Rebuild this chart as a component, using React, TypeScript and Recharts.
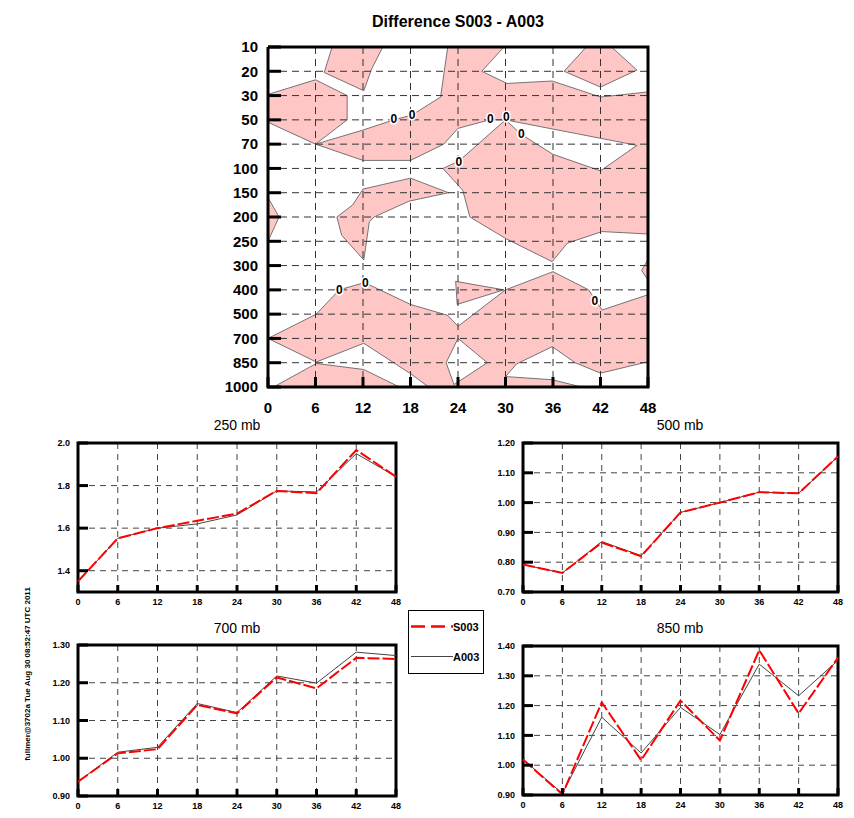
import React from 'react';
import {
  ScatterChart,
  Scatter,
  LineChart,
  Line,
  XAxis,
  YAxis,
  CartesianGrid,
  ReferenceArea
} from 'recharts';

const FONT = '"Liberation Sans", Arial, Helvetica, sans-serif';
const PINK = '#ffc6c6';
const CONTOUR = '#555555';

// forecast hours, shared by every panel
const hours = [0, 6, 12, 18, 24, 30, 36, 42, 48];
const innerHours = [6, 12, 18, 24, 30, 36, 42];

// pressure levels of the difference plot (rows are evenly spaced, top to bottom)
const levels = ['10', '20', '30', '50', '70', '100', '150', '200', '250', '300', '400', '500', '700', '850', '1000'];
const levelRows = levels.map((_, i) => i);
const innerRows = levelRows.slice(1, -1);

// shaded areas of S003 - A003, as [hour, level row]
const shadeLower = [[0, 12.0], [6.1, 11.0], [9, 10.0], [12.2, 9.7], [18, 10.6], [22.7, 11.05], [24, 11.5], [30, 10.0], [36, 9.25], [40.5, 10.0], [42.2, 10.83], [48, 10.2], [48, 14], [0, 14]];
const clearBottomLeft = [[0, 12.0], [6.1, 12.97], [12.1, 12.2], [18, 13.45], [20.3, 14], [16.6, 14], [12.1, 13.28], [6.1, 13.03], [0.7, 14], [0, 14]];
const clearBottom24 = [[24, 12.0], [27.7, 13.0], [23.5, 13.9], [22.5, 13.0]];
const clearBottomRight = [[31.4, 13.05], [35.9, 12.34], [38.8, 13.0], [42, 13.43], [48, 12.96], [48, 14], [39.6, 14], [35.9, 13.7], [30, 13.57]];
const shadeUpperBand = [[22.7, 0], [29.8, 0], [27, 1.0], [30.2, 1.5], [35.9, 1.4], [42, 2.06], [48, 1.85], [48, 7.7], [42.2, 7.6], [37.8, 8.08], [35.9, 8.84], [30.1, 7.9], [25.5, 7.0], [24.6, 5.9], [22.1, 5.0], [24.1, 4.7], [30, 3.0], [28, 3.0], [24, 3.35], [22.2, 4.0], [18, 4.67], [12, 4.67], [6, 4.0], [11.9, 3.43], [15.9, 3.0], [18.2, 2.8], [21.8, 2.06]];
const clearRightPocket = [[30, 3.0], [36, 3.38], [46.6, 4.05], [42, 5.1], [36, 4.42], [32, 3.6]];
const shadeTopLeft = [[8.1, 0], [14.5, 0], [13.1, 0.9], [12.1, 1.8], [7.1, 1.05]];
const shadeHexagon = [[0, 1.95], [6, 1.35], [10, 2.0], [10, 3.0], [6, 4.0], [0, 3.1]];
const shadeDiamond = [[37.4, 1.0], [40.2, 0], [43.4, 0], [46.6, 0.95], [42, 1.65]];
const shadeBoomerang = [[22.8, 6.0], [18, 5.4], [12, 5.85], [10.7, 6.5], [8.7, 7.0], [9.3, 7.75], [12.1, 8.77], [12.8, 7.2], [13.4, 7.0], [17.8, 6.35]];
const shadeLeftEdge = [[0, 6.2], [1.4, 7.0], [0, 8.0]];
const shadeRightEdge = [[48, 8.75], [47.2, 9.2], [48, 9.6]];
const shadeSmallTri = [[23.7, 9.65], [29.8, 10.0], [23.9, 10.6]];

// where the zero contour is labelled
const zeroLabels = [[15.9, 2.95], [18.2, 2.78], [28.1, 2.98], [30.1, 2.88], [32, 3.6], [24.1, 4.72], [9, 10.0], [12.3, 9.72], [41.3, 10.45]];

// time series at single levels
const seriesNames = ['S003', 'A003'];
const s250 = [1.35, 1.552, 1.6, 1.635, 1.668, 1.775, 1.764, 1.967, 1.842];
const a250 = [1.35, 1.552, 1.6, 1.62, 1.662, 1.775, 1.77, 1.95, 1.842];
const s500 = [0.792, 0.764, 0.866, 0.82, 0.967, 1.0, 1.035, 1.031, 1.155];
const a500 = [0.792, 0.764, 0.869, 0.822, 0.967, 1.0, 1.035, 1.031, 1.155];
const s700 = [0.938, 1.013, 1.024, 1.141, 1.119, 1.214, 1.185, 1.266, 1.263];
const a700 = [0.938, 1.016, 1.029, 1.145, 1.121, 1.218, 1.199, 1.281, 1.272];
const s850 = [1.019, 0.902, 1.211, 1.017, 1.217, 1.083, 1.386, 1.174, 1.361];
const a850 = [1.02, 0.905, 1.161, 1.041, 1.194, 1.103, 1.339, 1.233, 1.352];
const ticks250 = [1.4, 1.6, 1.8, 2.0];
const ticks500 = [0.7, 0.8, 0.9, 1.0, 1.1, 1.2];
const ticks700 = [0.9, 1.0, 1.1, 1.2, 1.3];
const ticks850 = [0.9, 1.0, 1.1, 1.2, 1.3, 1.4];

const closed = (poly: number[][]) => {
  const pts = poly.map(([x, y]) => ({ x, y }));
  return [...pts, pts[0]];
};

const NoDot = () => <g />;

const ZeroLabel = (props: any) => (
  <text
    x={props.cx}
    y={props.cy}
    textAnchor="middle"
    dominantBaseline="central"
    fontSize={12}
    fontWeight="bold"
    fontFamily={FONT}
    fill="#000"
    stroke="#fff"
    strokeWidth={3}
    paintOrder="stroke"
  >
    0
  </text>
);

const shapes = [
  { pts: shadeLower, fill: PINK },
  { pts: clearBottomLeft, fill: '#fff' },
  { pts: clearBottom24, fill: '#fff' },
  { pts: clearBottomRight, fill: '#fff' },
  { pts: shadeUpperBand, fill: PINK },
  { pts: clearRightPocket, fill: '#fff' },
  { pts: shadeTopLeft, fill: PINK },
  { pts: shadeHexagon, fill: PINK },
  { pts: shadeDiamond, fill: PINK },
  { pts: shadeBoomerang, fill: PINK },
  { pts: shadeLeftEdge, fill: PINK },
  { pts: shadeRightEdge, fill: PINK },
  { pts: shadeSmallTri, fill: PINK }
];

const tickText = { fontSize: 15, fontWeight: 'bold', fill: '#000', fontFamily: FONT };
const stub = { stroke: '#000', strokeWidth: 3 };

const DifferencePlot = () => (
  <ScatterChart width={700} height={425} margin={{ top: 47, right: 52, bottom: 8, left: 208 }}>
    {shapes.map((s, i) => (
      <Scatter
        key={'shape' + i}
        data={closed(s.pts)}
        shape={NoDot}
        line={{ fill: s.fill, stroke: CONTOUR, strokeWidth: 0.8 }}
        isAnimationActive={false}
      />
    ))}
    {innerHours.map(h => (
      <Scatter
        key={'vg' + h}
        data={[{ x: h, y: 0 }, { x: h, y: 14 }]}
        shape={NoDot}
        line={{ stroke: '#333', strokeWidth: 1, strokeDasharray: '7 5', fill: 'none' }}
        isAnimationActive={false}
      />
    ))}
    {innerRows.map(r => (
      <Scatter
        key={'hg' + r}
        data={[{ x: 0, y: r }, { x: 48, y: r }]}
        shape={NoDot}
        line={{ stroke: '#333', strokeWidth: 1, strokeDasharray: '7 5', fill: 'none' }}
        isAnimationActive={false}
      />
    ))}
    <Scatter data={zeroLabels.map(([x, y]) => ({ x, y }))} shape={ZeroLabel} isAnimationActive={false} />
    <Scatter
      data={closed([[0, 0], [48, 0], [48, 14], [0, 14]])}
      shape={NoDot}
      line={{ stroke: '#000', strokeWidth: 3, fill: 'none' }}
      isAnimationActive={false}
    />
    <XAxis
      dataKey="x"
      type="number"
      domain={[0, 48]}
      ticks={hours}
      interval={0}
      height={30}
      axisLine={false}
      tickSize={-10}
      tickMargin={25}
      tickLine={stub}
      tick={tickText}
      zIndex={2000}
    />
    <XAxis
      xAxisId="top"
      orientation="top"
      dataKey="x"
      type="number"
      domain={[0, 48]}
      ticks={hours}
      interval={0}
      height={0}
      axisLine={false}
      tickSize={-10}
      tickLine={stub}
      tickFormatter={() => ''}
      zIndex={2000}
    />
    <YAxis
      dataKey="y"
      type="number"
      domain={[0, 14]}
      reversed
      ticks={levelRows}
      interval={0}
      width={60}
      axisLine={false}
      tickSize={-13}
      tickMargin={23}
      tickLine={stub}
      tick={tickText}
      tickFormatter={(v: number) => levels[v]}
      zIndex={2000}
    />
    <YAxis
      yAxisId="right"
      orientation="right"
      dataKey="y"
      type="number"
      domain={[0, 14]}
      reversed
      ticks={levelRows}
      interval={0}
      width={0}
      axisLine={false}
      tickSize={-13}
      tickLine={stub}
      tickFormatter={() => ''}
      zIndex={2000}
    />
  </ScatterChart>
);

interface PanelProps {
  left: number;
  top: number;
  w: number;
  h: number;
  s: number[];
  a: number[];
  domain: [number, number];
  ticks: number[];
  digits: number;
}

const Panel = ({ left, top, w, h, s, a, domain, ticks, digits }: PanelProps) => {
  const data = hours.map((hr, i) => ({ hr, [seriesNames[0]]: s[i], [seriesNames[1]]: a[i] }));
  const small = { fontSize: 9, fontWeight: 'bold', fill: '#000', fontFamily: FONT };
  return (
    <div style={{ position: 'absolute', left: left - 60, top: top - 25 }}>
      <LineChart width={w + 70} height={h + 50} data={data} margin={{ top: 25, right: 10, left: 20, bottom: 5 }}>
        <CartesianGrid stroke="#444" strokeDasharray="6 5" />
        <XAxis
          dataKey="hr"
          type="number"
          domain={[0, 48]}
          ticks={hours}
          interval={0}
          height={20}
          axisLine={false}
          tickSize={-7}
          tickMargin={14}
          tickLine={stub}
          tick={small}
        />
        <YAxis
          type="number"
          domain={domain}
          ticks={ticks}
          interval={0}
          width={40}
          allowDataOverflow
          axisLine={false}
          tickSize={-10}
          tickMargin={18}
          tickLine={stub}
          tick={small}
          tickFormatter={(v: number) => v.toFixed(digits)}
        />
        <ReferenceArea x1={0} x2={48} y1={domain[0]} y2={domain[1]} fill="none" stroke="#000" strokeWidth={3} />
        <Line dataKey={seriesNames[1]} stroke="#444" strokeWidth={1} dot={false} isAnimationActive={false} />
        <Line
          dataKey={seriesNames[0]}
          stroke="#ff0000"
          strokeWidth={2}
          strokeDasharray="12 3"
          dot={false}
          isAnimationActive={false}
        />
      </LineChart>
    </div>
  );
};

const Title = ({ text, cx, cy, size, bold }: { text: string; cx: number; cy: number; size: number; bold?: boolean }) => (
  <div
    style={{
      position: 'absolute',
      left: cx - 150,
      width: 300,
      top: cy - size / 2 - 1,
      lineHeight: size + 2 + 'px',
      fontSize: size,
      fontWeight: bold ? 'bold' : 'normal',
      textAlign: 'center',
      fontFamily: FONT,
      color: '#000'
    }}
  >
    {text}
  </div>
);

const LegendBox = () => (
  <div style={{ position: 'absolute', left: 408, top: 610, width: 74, height: 62, border: '1.5px solid #000', background: '#fff' }}>
    <svg width={74} height={62} style={{ display: 'block' }}>
      <line x1={2} x2={44} y1={15.5} y2={15.5} stroke="#ff0000" strokeWidth={2.5} strokeDasharray="14 6" />
      <text x={44} y={19.5} fontSize={11} fontWeight="bold" fontFamily={FONT}>{seriesNames[0]}</text>
      <line x1={2} x2={44} y1={45.5} y2={45.5} stroke="#444" strokeWidth={1} />
      <text x={44} y={49.5} fontSize={11} fontWeight="bold" fontFamily={FONT}>{seriesNames[1]}</text>
    </svg>
  </div>
);

export default function App() {
  return (
    <div style={{ position: 'absolute', left: 0, top: 0, width: 854, height: 818, background: '#fff', fontFamily: FONT }}>
      <Title text="Difference S003 - A003" cx={458} cy={22} size={16} bold />
      <div style={{ position: 'absolute', left: 0, top: 0 }}>
        <DifferencePlot />
      </div>
      <Title text="250 mb" cx={237} cy={425} size={14} />
      <Title text="500 mb" cx={680} cy={425} size={14} />
      <Title text="700 mb" cx={237} cy={628} size={14} />
      <Title text="850 mb" cx={680} cy={628} size={14} />
      <Panel left={78} top={443} w={318} h={149} s={s250} a={a250} domain={[1.3, 2.0]} ticks={ticks250} digits={1} />
      <Panel left={523} top={443} w={315} h={149} s={s500} a={a500} domain={[0.7, 1.2]} ticks={ticks500} digits={2} />
      <Panel left={78} top={645} w={318} h={151} s={s700} a={a700} domain={[0.9, 1.3]} ticks={ticks700} digits={2} />
      <Panel left={523} top={646} w={315} h={149} s={s850} a={a850} domain={[0.9, 1.4]} ticks={ticks850} digits={2} />
      <LegendBox />
      <div
        style={{
          position: 'absolute',
          left: 28 - 110,
          top: 674 - 6,
          width: 220,
          height: 12,
          lineHeight: '12px',
          textAlign: 'center',
          fontSize: 8,
          fontWeight: 'bold',
          fontFamily: FONT,
          transform: 'rotate(-90deg)'
        }}
      >
        fullmer@3702a Tue Aug 30 08:52:47 UTC 2011
      </div>
    </div>
  );
}
